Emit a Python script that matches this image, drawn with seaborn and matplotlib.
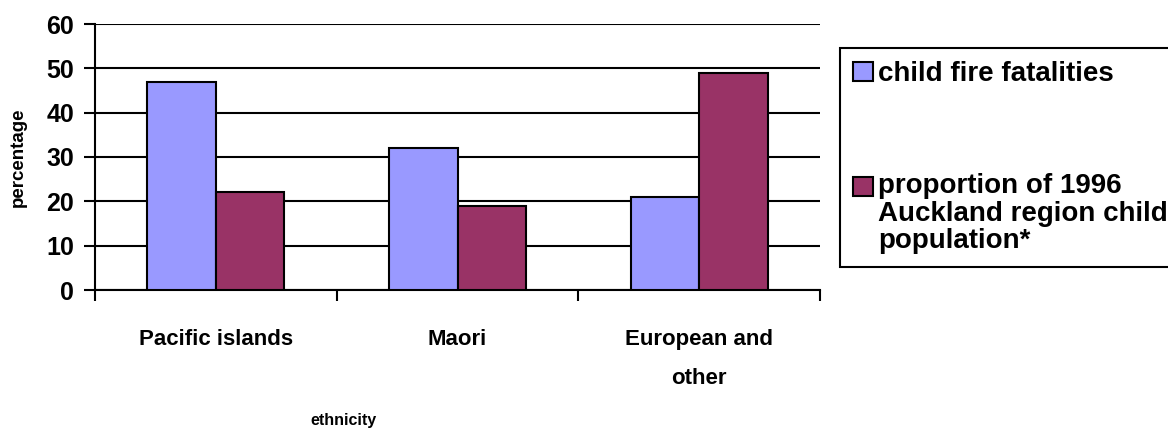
import matplotlib
matplotlib.use("Agg")
import matplotlib.pyplot as plt
import matplotlib.patches as mpatches
from matplotlib.legend_handler import HandlerPatch
import numpy as np
import pandas as pd
import seaborn as sns

# Data
categories = ["Pacific islands", "Maori", "European and\nother"]
series_names = ["child fire fatalities",
                "proportion of 1996\nAuckland region child\npopulation*"]
fatalities = [47, 32, 21]
population = [22, 19, 49]
colors = ["#9999FF", "#993366"]
y_ticks = [0, 10, 20, 30, 40, 50, 60]

df = pd.DataFrame({
    "ethnicity": categories * 2,
    "percentage": fatalities + population,
    "series": [series_names[0]] * 3 + [series_names[1]] * 3,
})

sns.set_theme(style="white")
plt.rcParams["font.family"] = ["Liberation Sans", "DejaVu Sans"]
plt.rcParams["font.weight"] = "bold"
for key in ["text.color", "axes.labelcolor", "xtick.color", "ytick.color"]:
    plt.rcParams[key] = "black"

fig = plt.figure(figsize=(11.68, 4.30), dpi=100)
ax = fig.add_axes([95 / 1168, 1 - 290 / 430, (820 - 95) / 1168, (290 - 24) / 430])

sns.barplot(data=df, x="ethnicity", y="percentage", hue="series",
            order=categories, hue_order=series_names, palette=colors,
            saturation=1, width=0.567, gap=0, edgecolor="black",
            linewidth=1.5, ax=ax, legend=False, zorder=3)

ax.set_ylim(0, 60)
ax.set_xlim(-0.5, 2.5)
ax.set_yticks(y_ticks)
ax.set_yticklabels([str(v) for v in y_ticks], fontsize=18, fontweight="bold")
ax.yaxis.grid(True, color="black", linewidth=1.5, zorder=0)
ax.set_axisbelow(True)
ax.tick_params(axis="y", direction="out", length=8, width=1.5, color="black",
               left=True, pad=7)

# Category boundaries get the tick marks; names sit in between
ax.set_xticks([-0.5, 0.5, 1.5, 2.5])
ax.set_xticklabels([])
ax.tick_params(axis="x", which="major", direction="out", length=8, width=1.5,
               color="black", bottom=True)
ax.set_xticks([0, 1, 2], minor=True)
ax.set_xticklabels(categories, minor=True, fontsize=16, fontweight="bold",
                   linespacing=2.15)
ax.tick_params(axis="x", which="minor", length=0, pad=28)

for side in ["top", "right"]:
    ax.spines[side].set_visible(False)
for side in ["left", "bottom"]:
    ax.spines[side].set_color("black")
    ax.spines[side].set_linewidth(1.5)

ax.set_xlabel("")
ax.set_ylabel("")
fig.text(18 / 1168, 1 - 157 / 430, "percentage", rotation=90, ha="center",
         va="center", fontsize=13.5, fontweight="bold")
fig.text(343 / 1168, 1 - 420 / 430, "ethnicity", ha="center", va="center",
         fontsize=11.5, fontweight="bold")

# Legend: swatch aligned with the first line of each label
legend_fs = 20
legend_ls = 1.06


def top_swatch(legend, orig_handle, xdescent, ydescent, width, height, fontsize):
    n_lines = orig_handle.get_label().count("\n") + 1
    shift = (n_lines - 1) * 0.5 * fontsize * 0.94 * legend_ls
    return mpatches.Rectangle((-xdescent, -ydescent + shift), width, height)


handles = [mpatches.Patch(facecolor=c, edgecolor="black", linewidth=1.5, label=l)
           for c, l in zip(colors, series_names)]
leg = fig.legend(handles=handles, loc="upper left",
                 bbox_to_anchor=(840 / 1168, 1 - 48 / 430),
                 prop={"size": legend_fs, "weight": "bold"},
                 frameon=True, fancybox=False, shadow=False,
                 edgecolor="black", framealpha=1, borderaxespad=0,
                 handlelength=0.7, handleheight=0.7, handletextpad=0.2,
                 borderpad=0.48, labelspacing=3.1,
                 handler_map={mpatches.Patch: HandlerPatch(patch_func=top_swatch)})
leg.get_frame().set_linewidth(1.5)
for t in leg.get_texts():
    t.set_linespacing(legend_ls)

fig.savefig("out.png", dpi=100, facecolor="white")
